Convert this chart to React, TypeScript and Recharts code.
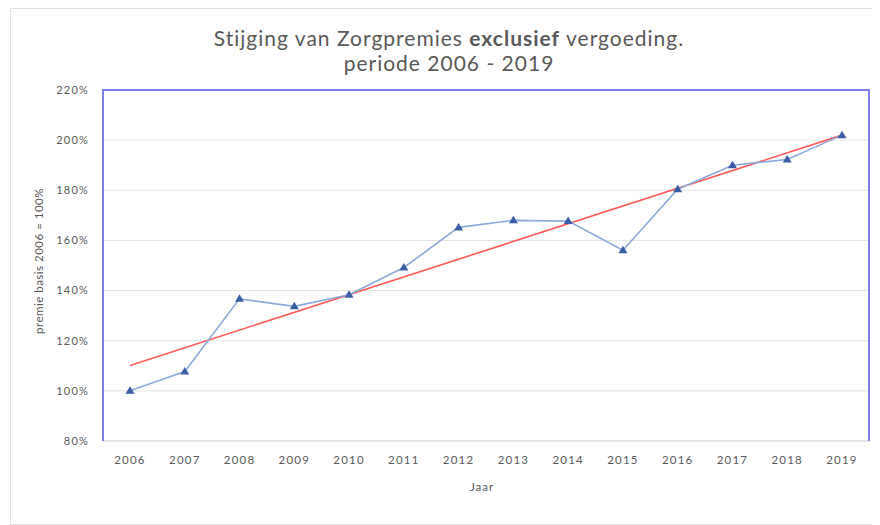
import { LineChart, Line, XAxis, YAxis, CartesianGrid } from "recharts";

const years = ["2006", "2007", "2008", "2009", "2010", "2011", "2012", "2013", "2014", "2015", "2016", "2017", "2018", "2019"];
const premie = [100, 107.7, 136.7, 133.7, 138.3, 149.2, 165.2, 168, 167.7, 156.1, 180.4, 190, 192.3, 202];
// trend line, only the two ends
const trend = [110.1, null, null, null, null, null, null, null, null, null, null, null, null, 202];
const yTicks = [80, 100, 120, 140, 160, 180, 200, 220];

const data = years.map((jaar, i) => ({ jaar, premie: premie[i], trend: trend[i] }));

const grey = "#595959";
const frameBlue = "#7f7fe6";
const font = "Lato, 'Open Sans', sans-serif";

function Triangle(props: any) {
  const { cx, cy, index } = props;
  if (cx == null || cy == null) return null;
  return (
    <path
      key={`tri-${index}`}
      d={`M${cx},${cy - 4.5} L${cx + 4.5},${cy + 3} L${cx - 4.5},${cy + 3} Z`}
      fill="#3a5da6"
    />
  );
}

export default function App() {
  return (
    <div style={{ position: "relative", width: 872, height: 517, fontFamily: font }}>
      <div
        style={{
          position: "absolute",
          left: 2,
          top: 0,
          width: 868,
          height: 515,
          border: "1px solid #e2e2e2",
        }}
      />
      <div
        style={{
          position: "absolute",
          left: 0,
          width: 882,
          top: 17,
          textAlign: "center",
          color: grey,
          fontSize: 21,
          letterSpacing: 1,
          lineHeight: "25px",
        }}
      >
        Stijging van Zorgpremies <b>exclusief</b> vergoeding.
        <br />
        periode 2006 - 2019
      </div>
      <div style={{ position: "absolute", left: 30, top: 253, width: 0, height: 0 }}>
        <div
          style={{
            position: "absolute",
            transform: "translate(-50%, -50%) rotate(-90deg)",
            whiteSpace: "nowrap",
            fontSize: 11.5,
            letterSpacing: 0.5,
            color: grey,
          }}
        >
          premie basis 2006 = 100%
        </div>
      </div>
      <div style={{ position: "absolute", left: 474, top: 467, width: 0, whiteSpace: "nowrap" }}>
        <div
          style={{
            transform: "translateX(-50%)",
            fontSize: 11.5,
            letterSpacing: 1,
            color: grey,
            display: "inline-block",
          }}
        >
          Jaar
        </div>
      </div>
      <LineChart
        width={872}
        height={517}
        data={data}
        margin={{ top: 82, right: 11, bottom: 54, left: 35 }}
        style={{ position: "absolute", left: 0, top: 0 }}
      >
        <CartesianGrid vertical={false} stroke="#e3e3e3" />
        <XAxis
          dataKey="jaar"
          height={30}
          padding={{ left: 27, right: 27 }}
          axisLine={{ stroke: "#d9d9d9" }}
          tickLine={false}
          tickMargin={9}
          tick={{ fill: grey, fontSize: 11.5, letterSpacing: 1.2, fontFamily: font }}
        />
        <YAxis
          domain={[80, 220]}
          ticks={yTicks}
          width={60}
          axisLine={false}
          tickLine={false}
          tickMargin={8}
          tickFormatter={(v: number) => `${v}%`}
          tick={{ fill: grey, fontSize: 11, letterSpacing: 1.2, fontFamily: font }}
        />
        <Line
          dataKey="trend"
          stroke="#ff5a5a"
          strokeWidth={1.6}
          connectNulls
          dot={false}
          isAnimationActive={false}
        />
        <Line
          dataKey="premie"
          stroke="#8eaadb"
          strokeWidth={1.6}
          dot={Triangle}
          activeDot={false}
          isAnimationActive={false}
        />
      </LineChart>
      <div
        style={{
          position: "absolute",
          left: 94,
          top: 81,
          width: 768,
          height: 352,
          boxSizing: "border-box",
          borderTop: `2px solid ${frameBlue}`,
          borderLeft: `2px solid ${frameBlue}`,
          borderRight: `2px solid ${frameBlue}`,
          pointerEvents: "none",
        }}
      />
    </div>
  );
}
